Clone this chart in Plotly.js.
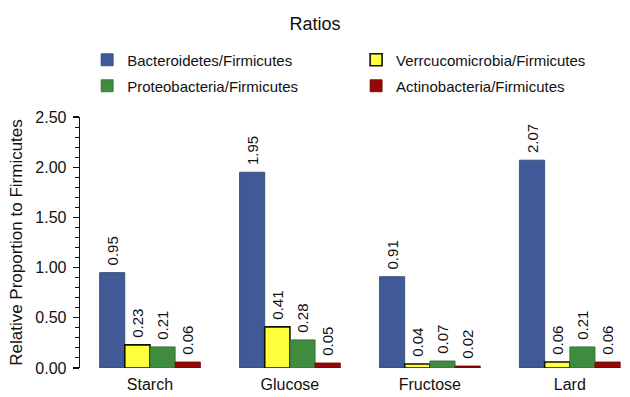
<!DOCTYPE html>
<html>
<head>
<meta charset="utf-8">
<script src="https://cdn.plot.ly/plotly-3.0.1.min.js"></script>
<style>html,body{margin:0;padding:0;background:#fff;}#chart{width:630px;height:397px;}</style>
</head>
<body>
<div id="chart"></div>
<script>
const categories = ["Starch", "Glucose", "Fructose", "Lard"];
const seriesNames = ["Bacteroidetes/Firmicutes", "Verrcucomicrobia/Firmicutes", "Proteobacteria/Firmicutes", "Actinobacteria/Firmicutes"];
const bacteroidetes = [0.95, 1.95, 0.91, 2.07];
const verrucomicrobia = [0.23, 0.41, 0.04, 0.06];
const proteobacteria = [0.21, 0.28, 0.07, 0.21];
const actinobacteria = [0.06, 0.05, 0.02, 0.06];
const yTickVals = [0, 0.5, 1, 1.5, 2, 2.5];

const colors = ["#3F5A97", "#FFFF3C", "#3F8C3F", "#940808"];
const lines = ["#2E4170", "#111111", "#2C6A2C", "#6A0505"];
const lineWidths = [0.8, 1.6, 0.8, 0.8];
const legendIds = ["legend", "legend2", "legend3", "legend4"];
const allSeries = [bacteroidetes, verrucomicrobia, proteobacteria, actinobacteria];

const FONT = "Liberation Sans, Arial, sans-serif";

const data = allSeries.map((vals, i) => ({
  type: "bar",
  name: seriesNames[i],
  legend: legendIds[i],
  x: categories,
  y: vals,
  marker: {color: colors[i], line: {color: lines[i], width: lineWidths[i]}},
  text: vals.map(v => "\u00a0" + v.toFixed(2)),
  textposition: "outside",
  textangle: -90,
  constraintext: "none",
  cliponaxis: false,
  textfont: {family: FONT, size: 15, color: "#111"},
  hoverinfo: "skip"
}));

const legendBase = {
  orientation: "h",
  xanchor: "left",
  yanchor: "middle",
  font: {family: FONT, size: 15, color: "#111"},
  itemwidth: 30,
  bgcolor: "rgba(0,0,0,0)"
};
const colX = [0.013, 0.502];
const rowY = [1.227, 1.1235];

const layout = {
  width: 630, height: 397,
  margin: {l: 80, r: 0, t: 117, b: 29},
  paper_bgcolor: "#fff", plot_bgcolor: "#fff",
  font: {family: FONT, color: "#111"},
  title: {text: "Ratios", x: 0.5, xanchor: "center", y: 0.94, yanchor: "middle", font: {family: FONT, size: 18, color: "#111"}},
  barmode: "group",
  bargap: 0.28,
  bargroupgap: 0,
  showlegend: true,
  legend: Object.assign({}, legendBase, {x: colX[0], y: rowY[0]}),
  legend2: Object.assign({}, legendBase, {x: colX[1], y: rowY[0]}),
  legend3: Object.assign({}, legendBase, {x: colX[0], y: rowY[1]}),
  legend4: Object.assign({}, legendBase, {x: colX[1], y: rowY[1]}),
  xaxis: {
    range: [-0.5, 3.43],
    showline: false, ticks: "", showgrid: false, zeroline: false,
    ticklabelstandoff: 5,
    tickfont: {family: FONT, size: 16, color: "#111"}
  },
  yaxis: {
    range: [0, 2.5],
    tickvals: yTickVals,
    tickformat: ".2f",
    showline: true, linecolor: "#111", linewidth: 1.3,
    ticks: "outside", ticklen: 6, tickwidth: 1.3, tickcolor: "#111",
    ticklabelstandoff: 3,
    minor: {dtick: 0.1, ticks: "outside", ticklen: 4, tickcolor: "#111", tickwidth: 1},
    showgrid: false, zeroline: false,
    tickfont: {family: FONT, size: 16, color: "#111"},
    title: {text: "Relative Proportion to Firmicutes", font: {family: FONT, size: 17, color: "#111"}, standoff: 8}
  }
};

Plotly.newPlot("chart", data, layout, {displayModeBar: false, staticPlot: true});
</script>
</body>
</html>
